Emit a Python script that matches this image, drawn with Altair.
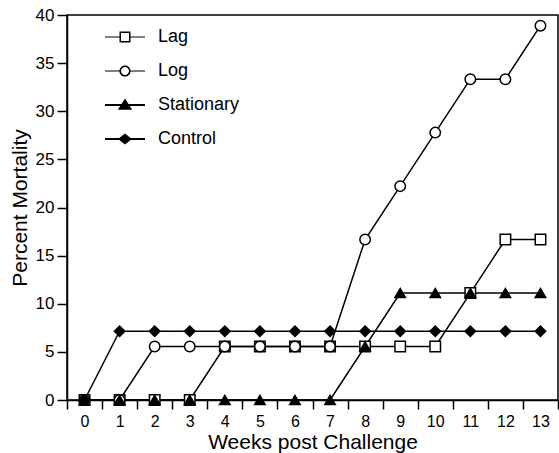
import altair as alt
import pandas as pd

# ---- data ----
weeks = [0, 1, 2, 3, 4, 5, 6, 7, 8, 9, 10, 11, 12, 13]
series_names = ["Lag", "Log", "Stationary", "Control"]
lag = [0, 0, 0, 0, 5.56, 5.56, 5.56, 5.56, 5.56, 5.56, 5.56, 11.11, 16.67, 16.67]
log = [0, 0, 5.56, 5.56, 5.56, 5.56, 5.56, 5.56, 16.67, 22.22, 27.78, 33.33, 33.33, 38.89]
stationary = [0, 0, 0, 0, 0, 0, 0, 0, 5.56, 11.11, 11.11, 11.11, 11.11, 11.11]
control = [0, 7.14, 7.14, 7.14, 7.14, 7.14, 7.14, 7.14, 7.14, 7.14, 7.14, 7.14, 7.14, 7.14]

x_axis_values = [-0.5, 0, 0.5, 1, 1.5, 2, 2.5, 3, 3.5, 4, 4.5, 5, 5.5, 6, 6.5, 7, 7.5,
                 8, 8.5, 9, 9.5, 10, 10.5, 11, 11.5, 12, 12.5, 13, 13.5]
y_axis_values = [0, 5, 10, 15, 20, 25, 30, 35, 40]

marker_shapes = ["square", "circle", "triangle-up", "diamond"]
marker_fills = ["white", "white", "black", "black"]
# legend glyphs: a short line with the marker on it (filled outlines, no strokes)
legend_shapes = [
    "M-1,-0.03H-0.275V0.03H-1ZM0.275,-0.03H1V0.03H0.275Z"
    "M-0.275,-0.275H0.275V0.275H-0.275ZM-0.2,-0.2V0.2H0.2V-0.2Z",
    "M-1,-0.03H-0.28V0.03H-1ZM0.28,-0.03H1V0.03H0.28Z"
    "M0.28,0A0.28,0.28 0 1,1 -0.28,0A0.28,0.28 0 1,1 0.28,0Z"
    "M0.2,0A0.2,0.2 0 1,0 -0.2,0A0.2,0.2 0 1,0 0.2,0Z",
    "M-1,-0.05H1V0.05H-1ZM0,-0.32L0.36,0.24H-0.36Z",
    "M-1,-0.05H1V0.05H-1ZM0,-0.27L0.35,0L0,0.27L-0.35,0Z",
]

rows = []
for name, vals in zip(series_names, [lag, log, stationary, control]):
    for w, v in zip(weeks, vals):
        rows.append({"week": w, "mortality": v, "group": name})
df = pd.DataFrame(rows)

FONT = "Liberation Sans"

x_enc = alt.X(
    "week:Q",
    scale=alt.Scale(domain=[-0.5, 13.5], nice=False, zero=False),
    axis=alt.Axis(
        values=x_axis_values,
        title="Weeks post Challenge",
        labelExpr="datum.value % 1 === 0 ? '' + datum.value : ''",
        tickOpacity={"condition": {"test": "datum.value % 1 === 0", "value": 0}, "value": 1},
        labelOverlap=False,
        labelFlush=False,
        labelBound=False,
        grid=False,
        tickSize=9,
        labelPadding=4,
        labelFontSize=16,
        titlePadding=2,
    ),
)
y_enc = alt.Y(
    "mortality:Q",
    scale=alt.Scale(domain=[0, 40], nice=False),
    axis=alt.Axis(
        values=y_axis_values,
        title="Percent Mortality",
        grid=False,
        tickSize=10,
        labelPadding=3,
        labelFontSize=17,
        titlePadding=5,
    ),
)

lines = alt.Chart(df).mark_line(color="black", strokeWidth=1.5).encode(
    x=x_enc, y=y_enc, detail="group:N"
)

points = alt.Chart(df).mark_point(
    filled=True, opacity=1, stroke="black", strokeWidth=1.5, size=110
).encode(
    x=x_enc,
    y=y_enc,
    shape=alt.Shape("group:N", scale=alt.Scale(domain=series_names, range=marker_shapes), legend=None),
    fill=alt.Fill("group:N", scale=alt.Scale(domain=series_names, range=marker_fills), legend=None),
)

legend_layer = alt.Chart(df).transform_filter("datum.week < -100").mark_point(
    filled=True, opacity=1, color="black", size=1600
).encode(
    x=x_enc,
    y=y_enc,
    shape=alt.Shape(
        "group:N",
        scale=alt.Scale(domain=series_names, range=legend_shapes),
        legend=alt.Legend(
            title=None,
            orient="none",
            legendX=38,
            legendY=5,
            padding=0,
            rowPadding=0,
            clipHeight=34,
            labelOffset=13,
            labelFont=FONT,
            labelFontSize=18,
            labelColor="black",
            symbolSize=1600,
            symbolFillColor="black",
            symbolStrokeWidth=0,
            symbolOpacity=1,
        ),
    ),
)

chart = (
    alt.layer(lines, points, legend_layer)
    .resolve_scale(shape="independent")
    .properties(
        width=491,
        height=385,
        autosize=alt.AutoSizeParams(type="none"),
        padding={"left": 67, "top": 15, "right": 1, "bottom": 53},
    )
    .configure_view(stroke="black", strokeWidth=1.5)
    .configure_axis(
        domainColor="black",
        domainWidth=1.5,
        tickColor="black",
        tickWidth=1.5,
        labelColor="black",
        titleColor="black",
        labelFont=FONT,
        titleFont=FONT,
        titleFontSize=21,
        titleFontWeight="normal",
    )
)

chart.save("out.html", embed_options={"renderer": "svg", "actions": False})
